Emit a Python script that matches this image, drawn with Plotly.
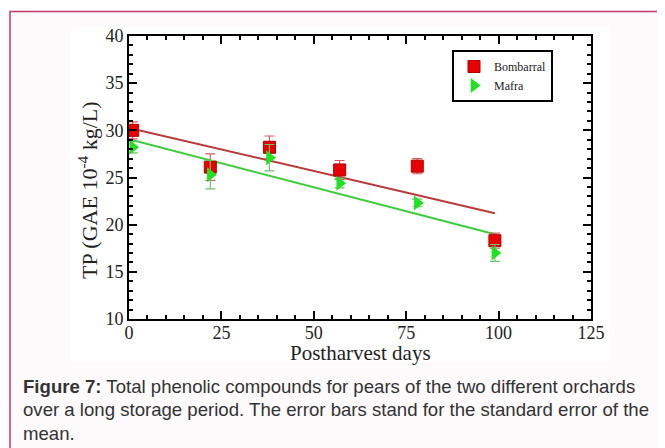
import numpy as np
import plotly.graph_objects as go

# ---- data ----
days = [1, 22, 38, 57, 78, 99]
bombarral = [30.0, 26.1, 28.2, 25.8, 26.2, 18.3]
bombarral_err = [0.9, 1.4, 1.2, 1.0, 0.8, 0.8]
mafra = [28.2, 25.3, 27.1, 24.4, 22.3, 17.0]
mafra_err = [0.6, 1.5, 1.4, 0.5, 0.4, 0.9]

x_ticks = [0, 25, 50, 75, 100, 125]
y_ticks = [10, 15, 20, 25, 30, 35, 40]

caption_lines = [
    "<b>Figure 7:</b> Total phenolic compounds for pears of the two different orchards",
    "over a long storage period. The error bars stand for the standard error of the",
    "mean.",
]

OFF = 8                      # page body margin
W, H = 665 - OFF, 448 - OFF  # figure size so it fits the window
# plot-area edges in screen pixels
SL, SR, ST, SB = 129, 591, 36, 319
L, R, T, B = SL - OFF, SR - OFF, ST - OFF, SB - OFF


def px(x):  # screen x -> paper
    return (x - SL) / (SR - SL)


def py(y):  # screen y -> paper
    return (SB - y) / (SB - ST)


fig = go.Figure()

# linear regression lines
fit_x = np.array([0, max(days)])
for vals, col in [(bombarral, "#b83a3a"), (mafra, "#3ccc3c")]:
    k, b = np.polyfit(days, vals, 1)
    fig.add_trace(go.Scatter(x=fit_x, y=k * fit_x + b, mode="lines",
                             line=dict(color=col, width=2), showlegend=False,
                             hoverinfo="skip"))

fig.add_trace(go.Scatter(
    x=days, y=bombarral, mode="markers", name="Bombarral",
    marker=dict(symbol="square", size=12, color="#e80000",
                line=dict(color="#b00000", width=1)),
    error_y=dict(type="data", array=bombarral_err, color="#d06060",
                 thickness=1.2, width=5),
))
fig.add_trace(go.Scatter(
    x=days, y=mafra, mode="markers", name="Mafra",
    marker=dict(symbol="triangle-right", size=13, color="#22e022",
                line=dict(width=0)),
    error_y=dict(type="data", array=mafra_err, color="#70c070",
                 thickness=1.2, width=5),
))

axis_common = dict(showline=True, linecolor="black", linewidth=2, mirror="allticks",
                   ticks="inside", ticklen=8, tickwidth=2, tickcolor="black",
                   showgrid=False, zeroline=False,
                   tickfont=dict(family="Liberation Serif", size=18, color="#222"))

fig.update_xaxes(range=[0, 125], tickvals=x_ticks, ticktext=[str(v) for v in x_ticks],
                 ticklabelstandoff=-4,
                 minor=dict(dtick=5, tick0=0, ticks="inside", ticklen=4,
                            tickwidth=1.5, tickcolor="black", showgrid=False),
                 **axis_common)
fig.update_yaxes(range=[10, 40], tickvals=y_ticks, ticktext=[str(v) for v in y_ticks],
                 minor=dict(dtick=1, tick0=0, ticks="inside", ticklen=4,
                            tickwidth=1.5, tickcolor="black", showgrid=False),
                 **axis_common)

shapes = [
    # outer frame
    dict(type="rect", xref="paper", yref="paper", layer="below",
         x0=px(10), x1=px(700), y0=py(11.5), y1=py(500),
         line=dict(color="#c23a64", width=1.5), fillcolor="#fcfafb"),
    # white image area
    dict(type="rect", xref="paper", yref="paper", layer="below",
         x0=px(71), x1=px(609), y0=py(27), y1=py(362),
         line=dict(width=0), fillcolor="white"),
]

annotations = [
    dict(text="Postharvest days", xref="paper", yref="paper",
         x=px(360), y=py(353), xanchor="center", yanchor="middle", showarrow=False,
         font=dict(family="Liberation Serif", size=21, color="#222")),
    dict(text="TP (GAE 10<sup>-4</sup> kg/L)", xref="paper", yref="paper",
         x=px(88), y=py(190), xanchor="center", yanchor="middle", showarrow=False,
         textangle=-90, font=dict(family="Liberation Serif", size=22, color="#222")),
]
for i, line in enumerate(caption_lines):
    annotations.append(dict(text=line, xref="paper", yref="paper",
                            x=px(21), y=py(386 + 23.5 * i), xanchor="left",
                            yanchor="middle", showarrow=False,
                            font=dict(family="Liberation Sans", size=18.6, color="#333")))

fig.update_layout(
    width=W, height=H,
    margin=dict(l=L, r=W - R, t=T, b=H - B, pad=0),
    paper_bgcolor="white", plot_bgcolor="white",
    shapes=shapes, annotations=annotations,
    legend=dict(x=px(452), y=py(50), xanchor="left", yanchor="top",
                bordercolor="black", borderwidth=2, bgcolor="white",
                font=dict(family="Liberation Serif", size=12, color="#222"),
                itemwidth=30, tracegroupgap=0),
)

fig.write_html("out.html")
